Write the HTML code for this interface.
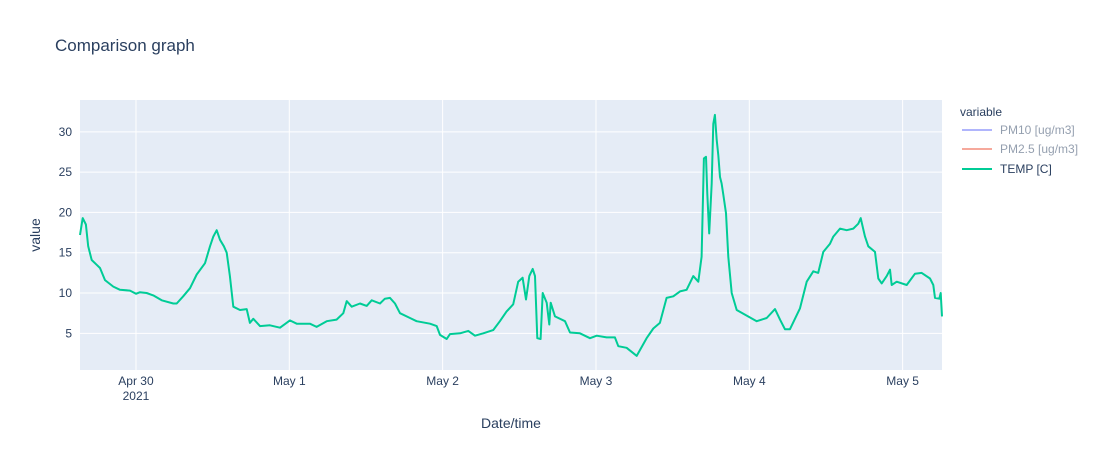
<!DOCTYPE html>
<html><head><meta charset="utf-8"><style>
body{margin:0;background:#fff;font-family:"Liberation Sans",sans-serif}
svg text{font-family:"Liberation Sans",sans-serif;fill:#2a3f5f}
</style></head><body>
<svg id="chart" width="1100" height="450" xmlns="http://www.w3.org/2000/svg">
<rect width="1100" height="450" fill="#fff"/>
<text x="55" y="51" font-size="17">Comparison graph</text>
<rect x="80" y="100" width="862" height="270" fill="#e5ecf6"/>
<g id="grid"></g>
<g id="ticks"></g>
<path id="temp-line" fill="none" stroke="#00cc96" stroke-width="2" stroke-linejoin="round"/>
<text transform="translate(40,235) rotate(-90)" text-anchor="middle" font-size="14">value</text>
<text x="511" y="428" text-anchor="middle" font-size="14">Date/time</text>
<g>
<text x="960" y="116" font-size="12">variable</text>
<g opacity="0.5"><line x1="962" y1="130" x2="992" y2="130" stroke="#636efa" stroke-width="2"/><text x="1000" y="134" font-size="12">PM10 [ug/m3]</text></g>
<g opacity="0.5"><line x1="962" y1="149" x2="992" y2="149" stroke="#ef553b" stroke-width="2"/><text x="1000" y="153" font-size="12">PM2.5 [ug/m3]</text></g>
<g><line x1="962" y1="169" x2="992" y2="169" stroke="#00cc96" stroke-width="2"/><text x="1000" y="173" font-size="12">TEMP [C]</text></g>
</g>
</svg>
<script>
// hours since Apr 30 2021 00:00
const hours=[-8.76,-8.34,-7.83,-7.47,-6.93,-6.15,-5.63,-4.85,-3.55,-2.5,-0.94,0,0.63,1.67,2.71,4.02,5.84,6.37,7.40,8.45,9.50,10.8,11.58,12.1,12.63,13.15,13.77,14.2,14.71,15.23,16.28,17.33,17.84,18.36,19.41,20.97,22.54,24.1,25.15,27.23,28.28,29.85,31.41,32.45,32.98,33.76,35.06,36.11,36.89,38.19,38.97,39.76,40.54,41.32,42.89,43.93,46.02,47.07,47.58,48.63,49.15,50.71,52.01,53.06,54.36,55.92,56.97,57.99,59.05,59.83,60.52,61.04,61.56,62.09,62.45,62.81,63.34,63.66,64.28,64.69,64.91,65.58,67.15,67.93,69.49,71.06,72.11,73.67,74.97,75.49,76.8,78.37,79.93,80.97,82.01,83.06,84.1,85.15,86.19,87.23,88.01,88.54,88.9,89.22,89.42,89.73,90.11,90.36,90.62,90.89,91.14,91.41,91.67,91.92,92.35,92.71,93.24,94.02,95.59,97.15,98.72,100.02,100.8,101.58,102.36,103.93,104.98,106.01,106.79,107.58,108.62,109.14,110.19,111.24,112.27,113.06,113.43,114.11,114.62,115.67,116.19,116.72,117.5,118.02,118.29,119.07,120.64,121.93,122.98,124.28,124.8,125.06,125.73,125.95,126.16];
const temps=[17.2,19.3,18.5,15.8,14.1,13.5,13.1,11.6,10.8,10.4,10.3,9.9,10.1,10,9.7,9.1,8.7,8.7,9.6,10.6,12.3,13.7,15.8,17.0,17.8,16.6,15.8,15.0,12.1,8.3,7.9,8.0,6.3,6.8,5.9,6.0,5.7,6.6,6.2,6.2,5.8,6.5,6.7,7.5,9.0,8.3,8.7,8.4,9.1,8.7,9.3,9.4,8.7,7.5,6.9,6.5,6.2,5.9,4.8,4.3,4.9,5.0,5.3,4.7,5.0,5.4,6.5,7.7,8.6,11.4,11.9,9.2,12.1,13.0,12.1,4.4,4.3,10.0,8.8,6.1,8.8,7.1,6.5,5.1,5.0,4.4,4.7,4.5,4.5,3.4,3.2,2.2,4.4,5.6,6.3,9.4,9.6,10.2,10.4,12.1,11.4,14.5,26.7,26.9,22.3,17.4,23.6,31.0,32.1,29.0,27.1,24.4,23.6,22.3,19.9,14.5,10.0,7.9,7.2,6.5,6.9,8.0,6.7,5.5,5.5,8.1,11.4,12.7,12.5,15.1,16.1,17.0,18.0,17.8,18.0,18.6,19.3,17.0,15.8,15.1,11.8,11.2,12.1,12.9,11.0,11.4,11.0,12.4,12.5,11.8,11.0,9.4,9.3,10.0,7.1];
const yTicks=[5,10,15,20,25,30];
const xTickHours=[0,24,48,72,96,120];
const xTickLabels=["Apr 30","May 1","May 2","May 3","May 4","May 5"];
const X0=80,X1=942,Y0=370,Y1=100,HMIN=-8.76,HMAX=126.16,VMIN=0.45,VMAX=33.95;
const xs=h=>X0+(h-HMIN)/(HMAX-HMIN)*(X1-X0);
const ys=v=>Y0-(v-VMIN)/(VMAX-VMIN)*(Y0-Y1);
const NS="http://www.w3.org/2000/svg";
const grid=document.getElementById('grid'),ticks=document.getElementById('ticks');
function mk(tag,at,parent){const e=document.createElementNS(NS,tag);for(const k in at)e.setAttribute(k,at[k]);parent.appendChild(e);return e;}
yTicks.forEach(v=>{
 const l=mk('line',{x1:X0,x2:X1,y1:ys(v),y2:ys(v),stroke:'#fff','stroke-width':1},grid);
 
 
 const t=mk('text',{x:X0-8,y:ys(v)+4,'text-anchor':'end','font-size':12},ticks);
 t.textContent=v;
 
 
});
xTickHours.forEach((h,i)=>{
 const l=mk('line',{x1:xs(h),x2:xs(h),y1:Y1,y2:Y0,stroke:'#fff','stroke-width':1},grid);
 
 
 const t=mk('text',{x:xs(h),y:Y0+15,'text-anchor':'middle','font-size':12},ticks);
 t.textContent=xTickLabels[i];
 
 
 if(i===0){const t2=mk('text',{x:xs(h),y:Y0+30,'text-anchor':'middle','font-size':12},ticks);t2.textContent='2021';
 
 }
});
document.getElementById('temp-line').setAttribute('d',hours.map((h,i)=>(i?'L':'M')+xs(h).toFixed(1)+','+ys(temps[i]).toFixed(1)).join(''));
</script>
</body></html>
